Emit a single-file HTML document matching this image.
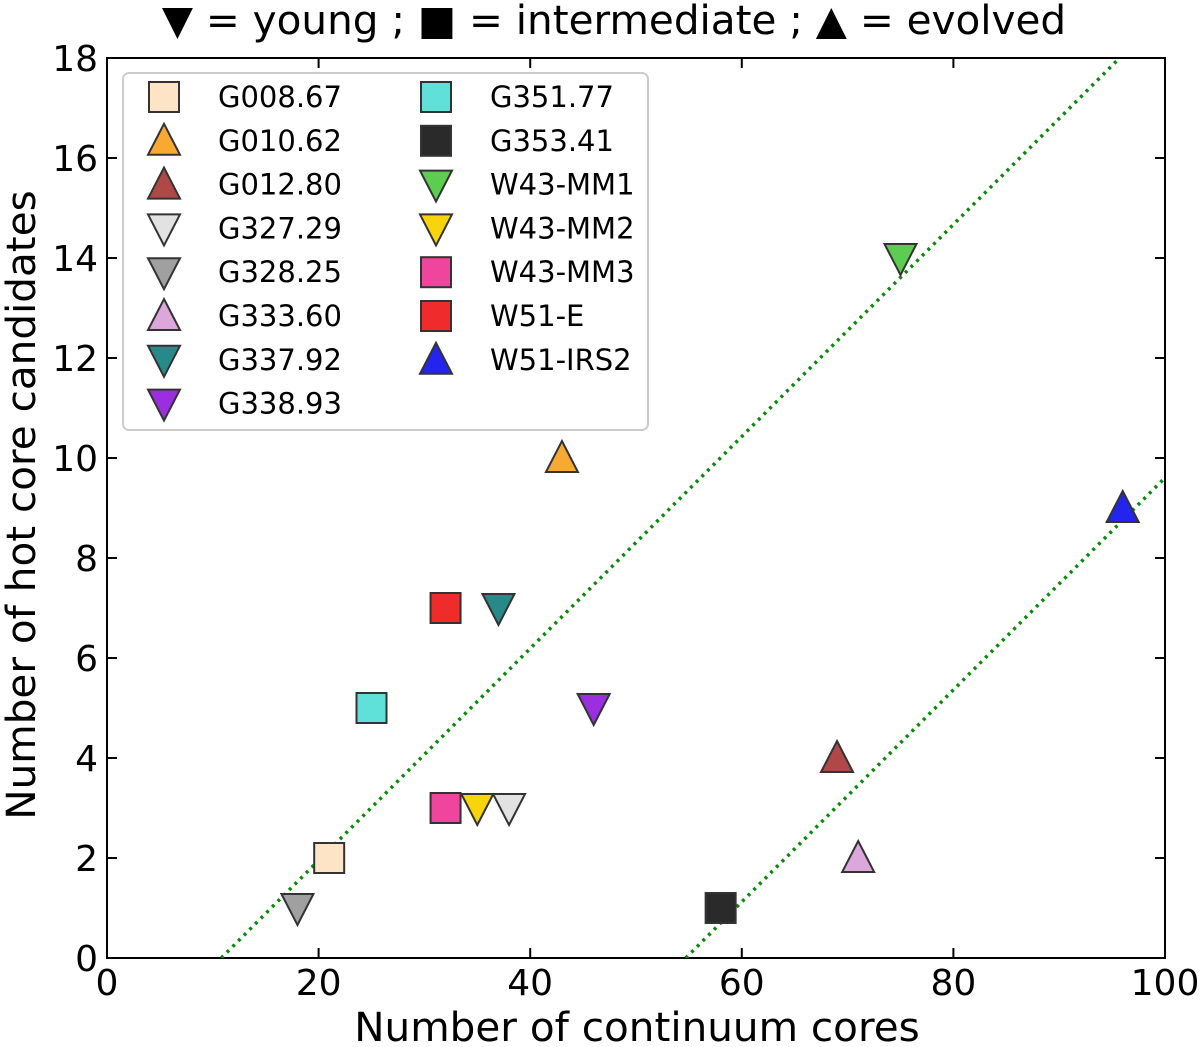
<!DOCTYPE html>
<html><head><meta charset="utf-8"><style>
body{margin:0;background:#fff;}
svg{display:block;font-family:"DejaVu Sans","Liberation Sans",sans-serif;}
</style></head><body>
<svg id="chart" width="1200" height="1047" viewBox="0 0 1200 1047">
<g id="axes"></g>
<g id="marks"></g>
<g id="legend"></g>
</svg>
<script>
const names=["G008.67","G010.62","G012.80","G327.29","G328.25","G333.60","G337.92","G338.93","G351.77","G353.41","W43-MM1","W43-MM2","W43-MM3","W51-E","W51-IRS2"];
const shapes=["s","u","u","d","d","u","d","d","s","s","d","d","s","s","u"];
const colors=["#fde4c6","#f8a932","#b04848","#e2e2e2","#a0a0a0","#dca8dc","#288a88","#9b2fdf","#5fe0d8","#2a2a2a","#5ccd4f","#f8d40c","#f0459c","#ef2b2b","#2424ef"];
const xVals=[21,43,69,38,18,71,37,46,25,58,75,35,32,32,96];
const yVals=[2,10,4,3,1,2,7,5,5,1,14,3,3,7,9];
const xTicks=[0,20,40,60,80,100];
const yTicks=[0,2,4,6,8,10,12,14,16,18];
const lineIntercepts=[10.8,54.7];
const lineSlope=0.212;
const NS="http://www.w3.org/2000/svg";
const L=107,R=1165,T=58,B=958;
const sx=v=>L+(v-0)/(100-0)*(R-L);
const sy=v=>B-(v-0)/(18-0)*(B-T);
function mk(tag,at,parent){const e=document.createElementNS(NS,tag);for(const k in at)e.setAttribute(k,at[k]);parent.appendChild(e);return e;}
const axes=document.getElementById('axes'),marks=document.getElementById('marks'),leg=document.getElementById('legend');
const title=mk('text',{x:614,y:34,'text-anchor':'middle','font-size':40.5,fill:'#000'},axes);
title.textContent="▼ = young ; ■ = intermediate ; ▲ = evolved";


xTicks.forEach(v=>{const x=sx(v);
 mk('line',{x1:x,x2:x,y1:B,y2:B-10,stroke:'#000','stroke-width':2},axes);
 mk('line',{x1:x,x2:x,y1:T,y2:T+10,stroke:'#000','stroke-width':2},axes);
 const t=mk('text',{x:x,y:B+37,'text-anchor':'middle','font-size':36},axes);t.textContent=v;
 
 });
yTicks.forEach(v=>{const y=sy(v);
 mk('line',{x1:L,x2:L+10,y1:y,y2:y,stroke:'#000','stroke-width':2},axes);
 mk('line',{x1:R,x2:R-10,y1:y,y2:y,stroke:'#000','stroke-width':2},axes);
 const t=mk('text',{x:L-9,y:y+13,'text-anchor':'end','font-size':36},axes);t.textContent=v;
 
 });
const xt=mk('text',{x:637,y:1041,'text-anchor':'middle','font-size':40.5},axes);xt.textContent="Number of continuum cores";


const yt=mk('text',{x:0,y:0,'text-anchor':'middle','font-size':40.5,transform:'translate(35,505) rotate(-90)'},axes);yt.textContent="Number of hot core candidates";


const clip=mk('clipPath',{id:'pc'},axes);mk('rect',{x:L,y:T,width:R-L,height:B-T},clip);
lineIntercepts.forEach(x0=>{const ln=mk('line',{x1:sx(x0),y1:sy(0),x2:sx(x0+18/lineSlope),y2:sy(18),stroke:'#0a8a0a','stroke-width':3.5,'stroke-dasharray':'3,5','clip-path':'url(#pc)'},marks);
 
 });
function marker(shape,cx,cy,fill,parent){
 const s=15;
 if(shape==='s')return mk('rect',{x:cx-s,y:cy-s,width:2*s,height:2*s,fill:fill,stroke:'#333','stroke-width':2},parent);
 if(shape==='u')return mk('polygon',{points:`${cx},${cy-s-2} ${cx+s+1},${cy+s-1} ${cx-s-1},${cy+s-1}`,fill:fill,stroke:'#333','stroke-width':2},parent);
 return mk('polygon',{points:`${cx},${cy+s+2} ${cx+s+1},${cy-s+1} ${cx-s-1},${cy-s+1}`,fill:fill,stroke:'#333','stroke-width':2},parent);
}
names.forEach((n,i)=>{const m=marker(shapes[i],sx(xVals[i]),sy(yVals[i]),colors[i],marks);
 
 });
mk('rect',{x:L,y:T,width:R-L,height:B-T,fill:'none',stroke:'#000','stroke-width':2},axes);
const lb=mk('rect',{x:123,y:73,width:525,height:357,rx:6,fill:'#fff',stroke:'#ccc','stroke-width':2},leg);


names.forEach((n,i)=>{const col=i<8?0:1,row=i<8?i:i-8;
 const cx=col?436:164,cy=97+row*43.8;
 const g=mk('g',{},leg);
 
 
 marker(shapes[i],cx,cy,colors[i],g);
 const t=mk('text',{x:cx+54,y:cy+10,'font-size':29},g);t.textContent=n;});
</script>
</body></html>
